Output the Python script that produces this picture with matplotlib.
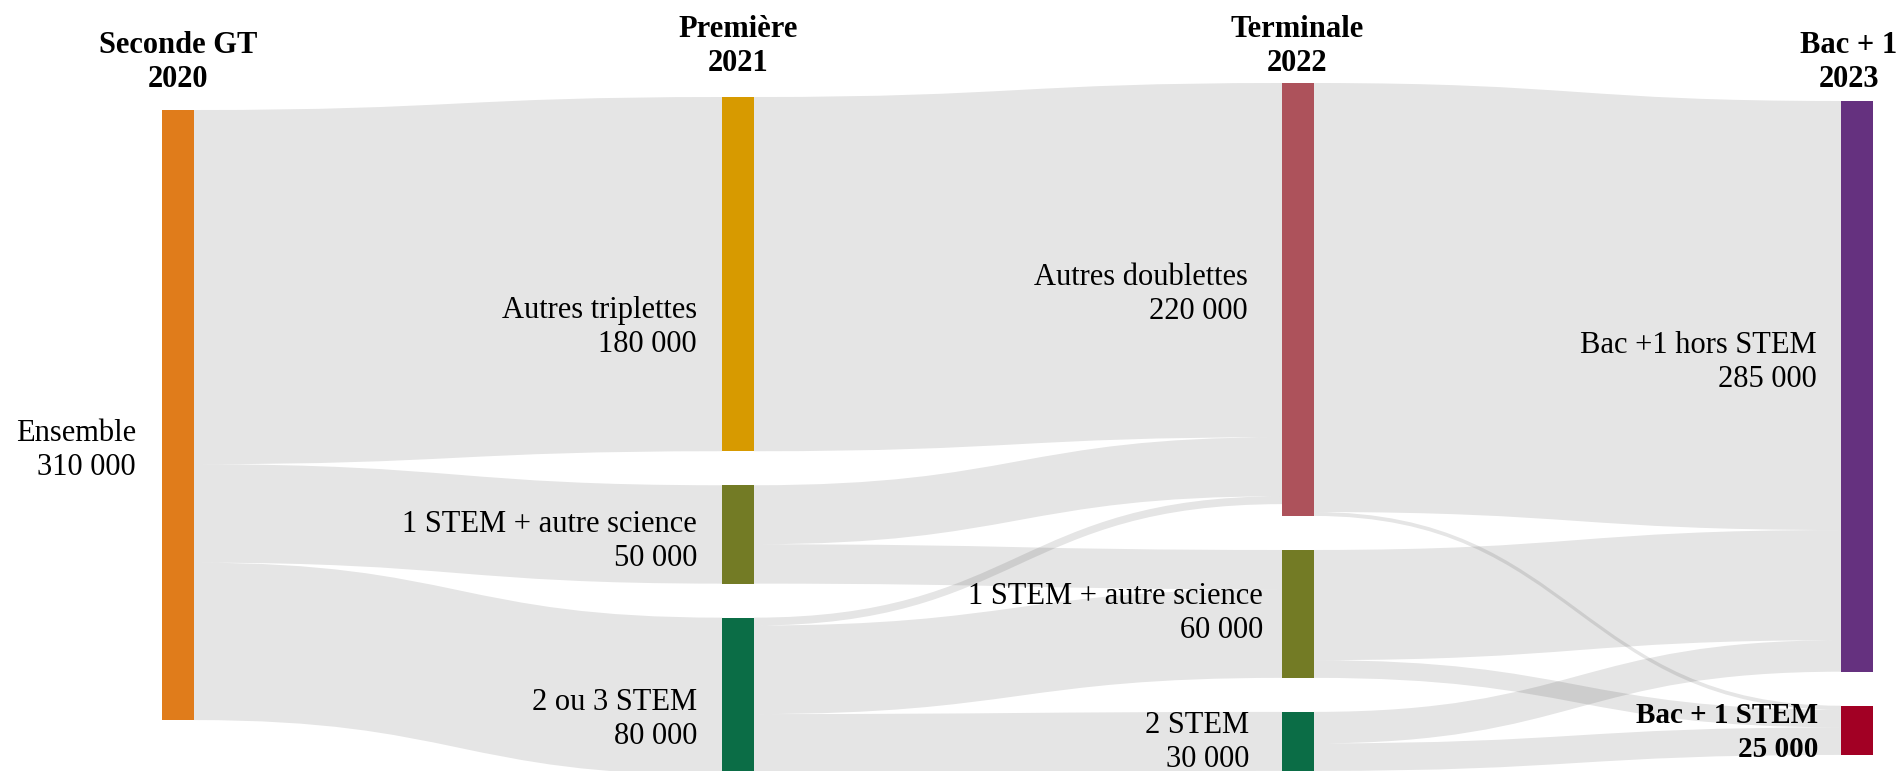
import numpy as np
import matplotlib.pyplot as plt
from matplotlib.path import Path
from matplotlib.patches import PathPatch, Rectangle

plt.rcParams['font.family'] = ['Liberation Serif', 'DejaVu Serif']

# ---- data (flows in thousands of pupils) ----
columns = ['Seconde GT', 'Première', 'Terminale', 'Bac + 1']
years = ['2020', '2021', '2022', '2023']

node_names = ['Ensemble', 'Autres triplettes', '1 STEM + autre science', '2 ou 3 STEM',
              'Autres doublettes', '1 STEM + autre science', '2 STEM',
              'Bac +1 hors STEM', 'Bac + 1 STEM']
node_counts = ['310 000', '180 000', '50 000', '80 000',
               '220 000', '60 000', '30 000', '285 000', '25 000']
node_column = [0, 1, 1, 1, 2, 2, 2, 3, 3]
node_bold = [False, False, False, False, False, False, False, False, True]

link_source = [0, 0, 0, 1, 2, 2, 3, 3, 3, 4, 4, 5, 5, 6, 6]
link_target = [1, 2, 3, 4, 4, 5, 4, 5, 6, 7, 8, 7, 8, 7, 8]
link_value = [180, 50, 80, 180, 30, 20, 4, 45, 30, 218, 2, 56, 9, 16, 14]

# ---- style / layout ----
node_colors = ['#E07C1B', '#D79A00', '#737B25', '#0B6D46',
               '#AD525B', '#737B25', '#0B6D46', '#65317F', '#A20024']
col_x = [162, 722, 1282, 1841]      # left edge of node bars (px)
col_top = [110, 97, 83, 101]        # top of first node in each column
node_w = 32
pad = 34
scale = 1.968                       # px per thousand

head_x = [178, 738, 1297, 1849]
head_y = [53, 37, 37, 53]
label_x = [136, 697, 697, 697, 1248, 1263, 1249, 1817, 1818]
label_y = [441, 318, 532, 710, 285, 604, 733, 353, 723]
line_gap = 34
fs = 22
fs_head = 22
fs_bold = 21

fig = plt.figure(figsize=(19.01, 7.71), dpi=100)
ax = fig.add_axes([0, 0, 1, 1])
ax.set_xlim(0, 1901)
ax.set_ylim(771, 0)
ax.axis('off')

n = len(node_names)
v_in = np.zeros(n)
v_out = np.zeros(n)
for s, t, v in zip(link_source, link_target, link_value):
    v_out[s] += v
    v_in[t] += v
size = np.maximum(v_in, v_out) * scale

# node positions
top = np.zeros(n)
for c in range(len(columns)):
    y = col_top[c]
    for i in range(n):
        if node_column[i] == c:
            top[i] = y
            y += size[i] + pad

# links
out_off = top.copy()
in_off = top.copy()
for s, t, v in zip(link_source, link_target, link_value):
    h = v * scale
    x0 = col_x[node_column[s]] + node_w
    x1 = col_x[node_column[t]]
    xm = (x0 + x1) / 2
    y0a, y0b = out_off[s], out_off[s] + h
    y1a, y1b = in_off[t], in_off[t] + h
    out_off[s] += h
    in_off[t] += h
    verts = [(x0, y0a), (xm, y0a), (xm, y1a), (x1, y1a),
             (x1, y1b), (xm, y1b), (xm, y0b), (x0, y0b), (x0, y0a)]
    codes = [Path.MOVETO, Path.CURVE4, Path.CURVE4, Path.CURVE4,
             Path.LINETO, Path.CURVE4, Path.CURVE4, Path.CURVE4, Path.CLOSEPOLY]
    ax.add_patch(PathPatch(Path(verts, codes), facecolor=(0, 0, 0, 0.1),
                           edgecolor='none', zorder=1))

# nodes
for i in range(n):
    ax.add_patch(Rectangle((col_x[node_column[i]], top[i]), node_w, size[i],
                           facecolor=node_colors[i], edgecolor='none', zorder=2))
    w = 'bold' if node_bold[i] else 'normal'
    f = fs_bold if node_bold[i] else fs
    ax.text(label_x[i], label_y[i], node_names[i], ha='right', va='baseline',
            fontsize=f, fontweight=w, zorder=3)
    ax.text(label_x[i], label_y[i] + line_gap, node_counts[i], ha='right',
            va='baseline', fontsize=f, fontweight=w, zorder=3)

# column headers
for c in range(len(columns)):
    ax.text(head_x[c], head_y[c], columns[c], ha='center', va='baseline',
            fontsize=fs_head, fontweight='bold')
    ax.text(head_x[c], head_y[c] + line_gap, years[c], ha='center',
            va='baseline', fontsize=fs_head, fontweight='bold')

fig.savefig('out.png', dpi=100, facecolor='white')
